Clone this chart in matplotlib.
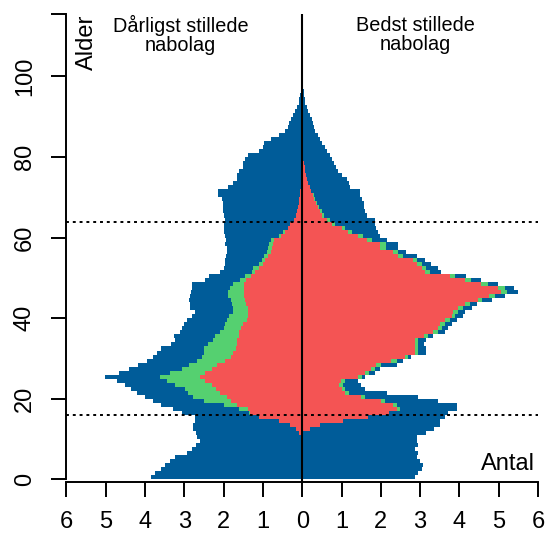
import numpy as np
import matplotlib.pyplot as plt

plt.rcParams['font.family'] = ['Liberation Sans', 'DejaVu Sans']

# one value per age year 0..99, in units of the x axis
edges = np.arange(101)

left_total = [3.85, 3.75, 3.60, 3.50, 3.36, 3.23, 2.93, 2.81, 2.70, 2.60,
              2.68, 2.70, 2.78, 2.78, 2.72, 2.72, 3.06, 3.30, 3.60, 3.80,
              4.00, 4.20, 4.35, 4.50, 4.70, 5.03, 4.65, 4.40, 4.19, 3.95,
              3.80, 3.70, 3.60, 3.35, 3.23, 3.27, 3.10, 3.05, 3.00, 2.93,
              2.81, 2.72, 2.85, 2.85, 2.87, 2.85, 2.82, 2.81, 2.81, 2.47,
              2.36, 2.09, 2.00, 1.96, 1.96, 1.93, 1.92, 1.92, 1.96, 1.94,
              1.96, 2.00, 1.98, 2.00, 1.96, 2.00, 2.02, 2.02, 2.02, 2.04,
              2.13, 2.13, 1.90, 1.76, 1.66, 1.66, 1.60, 1.51, 1.51, 1.45,
              1.37, 1.09, 1.00, 0.97, 0.80, 0.58, 0.43, 0.35, 0.33, 0.28,
              0.24, 0.18, 0.13, 0.09, 0.07, 0.05, 0.04, 0.03, 0.02, 0.01]

left_green = [0, 0, 0, 0, 0, 0, 0, 0, 0, 0,
              0, 0.07, 0.15, 0.31, 0.60, 1.10, 1.35, 1.62, 2.00, 2.51,
              2.77, 2.90, 2.98, 3.23, 3.44, 3.63, 3.36, 3.06, 2.89, 2.68,
              2.55, 2.51, 2.51, 2.40, 2.26, 2.21, 2.09, 2.00, 1.96, 1.92,
              1.85, 1.76, 1.75, 1.79, 1.82, 1.88, 1.88, 1.83, 1.75, 1.58,
              1.45, 1.28, 1.24, 1.10, 1.03, 0.98, 0.90, 0.86, 0.84, 0.80,
              0.60, 0.50, 0.37, 0.31, 0.22, 0.15, 0.12, 0.10, 0.08, 0.07,
              0.06, 0.05, 0.04, 0.03, 0.03, 0.02, 0.02, 0.01, 0.01, 0.01,
              0, 0, 0, 0, 0, 0, 0, 0, 0, 0,
              0, 0, 0, 0, 0, 0, 0, 0, 0, 0]

left_red = [0, 0, 0, 0, 0, 0, 0, 0, 0, 0,
            0, 0.07, 0.15, 0.31, 0.60, 1.10, 1.32, 1.37, 1.66, 1.80,
            1.92, 2.09, 2.20, 2.30, 2.47, 2.60, 2.47, 2.30, 2.17, 1.96,
            1.80, 1.75, 1.68, 1.67, 1.65, 1.62, 1.60, 1.55, 1.50, 1.41,
            1.38, 1.37, 1.37, 1.42, 1.45, 1.48, 1.49, 1.49, 1.49, 1.42,
            1.30, 1.20, 1.10, 1.00, 0.94, 0.86, 0.80, 0.77, 0.75, 0.73,
            0.55, 0.45, 0.35, 0.30, 0.22, 0.15, 0.12, 0.10, 0.08, 0.07,
            0.06, 0.05, 0.04, 0.03, 0.03, 0.02, 0.02, 0.01, 0.01, 0.01,
            0, 0, 0, 0, 0, 0, 0, 0, 0, 0,
            0, 0, 0, 0, 0, 0, 0, 0, 0, 0]

right_total = [2.88, 2.95, 3.05, 3.08, 2.99, 2.91, 2.95, 2.87, 2.95, 2.92,
               2.92, 3.16, 3.36, 3.50, 3.50, 3.63, 3.70, 3.93, 3.93, 3.46,
               2.95, 2.15, 1.60, 1.50, 1.41, 1.60, 1.85, 1.98, 2.40, 2.57,
               2.78, 3.16, 3.16, 3.10, 3.16, 3.33, 3.63, 3.72, 3.82, 3.93,
               4.10, 4.14, 4.31, 4.44, 4.82, 5.17, 5.48, 5.39, 4.97, 4.55,
               4.18, 3.53, 3.46, 3.29, 3.12, 2.91, 2.65, 2.44, 2.44, 2.15,
               1.98, 1.93, 1.89, 1.85, 1.85, 1.64, 1.60, 1.58, 1.58, 1.51,
               1.47, 1.47, 1.21, 1.18, 1.15, 1.00, 0.92, 0.85, 0.80, 0.75,
               0.70, 0.64, 0.58, 0.51, 0.45, 0.39, 0.33, 0.30, 0.28, 0.24,
               0.20, 0.16, 0.12, 0.08, 0.06, 0.05, 0.04, 0.03, 0.02, 0.01]

right_green = [0, 0, 0, 0, 0, 0, 0, 0, 0, 0,
               0, 0.03, 0.20, 0.45, 1.04, 1.68, 2.20, 2.50, 2.40, 2.10,
               1.60, 1.20, 1.10, 1.05, 1.08, 1.52, 1.70, 1.85, 2.00, 2.40,
               2.70, 2.95, 2.95, 2.95, 2.95, 3.21, 3.46, 3.56, 3.63, 3.76,
               3.88, 3.97, 4.10, 4.27, 4.58, 4.90, 5.20, 5.16, 4.73, 4.29,
               3.90, 3.25, 3.16, 3.04, 2.91, 2.57, 2.44, 2.12, 2.12, 1.78,
               1.55, 1.26, 1.09, 0.83, 0.70, 0.56, 0.50, 0.44, 0.38, 0.33,
               0.30, 0.23, 0.19, 0.15, 0.12, 0.10, 0.08, 0.06, 0.05, 0.03,
               0.02, 0.01, 0, 0, 0, 0, 0, 0, 0, 0,
               0, 0, 0, 0, 0, 0, 0, 0, 0, 0]

right_red = [0, 0, 0, 0, 0, 0, 0, 0, 0, 0,
             0, 0.03, 0.20, 0.45, 1.04, 1.68, 2.20, 2.41, 2.30, 2.00,
             1.50, 1.09, 1.00, 0.94, 0.98, 1.42, 1.59, 1.75, 1.89, 2.27,
             2.61, 2.87, 2.87, 2.87, 2.87, 3.10, 3.33, 3.46, 3.50, 3.63,
             3.80, 3.84, 3.97, 4.14, 4.48, 4.75, 5.07, 4.99, 4.56, 4.14,
             3.76, 3.12, 3.04, 2.91, 2.82, 2.44, 2.32, 1.98, 1.98, 1.64,
             1.42, 1.17, 1.00, 0.75, 0.62, 0.50, 0.46, 0.41, 0.36, 0.31,
             0.28, 0.23, 0.19, 0.15, 0.12, 0.10, 0.08, 0.06, 0.05, 0.03,
             0.02, 0.01, 0, 0, 0, 0, 0, 0, 0, 0,
             0, 0, 0, 0, 0, 0, 0, 0, 0, 0]

xticks = np.arange(-6, 7)
xtick_labels = [str(abs(t)) for t in xticks]
yticks = [0, 20, 40, 60, 80, 100, 115.5]
ytick_labels = ['0', '20', '40', '60', '80', '100', '']

blue = '#005C99'
green = '#55D070'
red = '#F45454'

fig = plt.figure(figsize=(5.45, 5.4), dpi=100)
ax = fig.add_axes([66.4 / 545, 58.5 / 540, (538 - 66.4) / 545, (526 - 58.5) / 540])

for vals, col in [(left_total, blue), (left_green, green), (left_red, red)]:
    ax.stairs(-np.array(vals), edges, baseline=0, fill=True, orientation='horizontal',
              color=col, lw=0)
for vals, col in [(right_total, blue), (right_green, green), (right_red, red)]:
    ax.stairs(np.array(vals), edges, baseline=0, fill=True, orientation='horizontal',
              color=col, lw=0)

ax.axvline(0, color='black', lw=1.5)
for yy in [16, 64]:
    ax.axhline(yy, color='black', lw=1.4, linestyle=(0, (1.5, 2)))

ax.set_xlim(-6, 6)
ax.set_ylim(-0.5, 115.5)
ax.spines['top'].set_visible(False)
ax.spines['right'].set_visible(False)
ax.spines['left'].set_bounds(0, 115.5)
ax.spines['bottom'].set_bounds(-6, 6)
ax.spines['left'].set_linewidth(1.4)
ax.spines['bottom'].set_linewidth(1.4)

ax.set_xticks(xticks)
ax.set_xticklabels(xtick_labels)
ax.set_yticks(yticks)
ax.set_yticklabels(ytick_labels)
ax.tick_params(axis='x', length=11, width=1.4, labelsize=17, pad=10)
ax.tick_params(axis='y', length=11, width=1.4, labelsize=17, pad=11)
for lab in ax.get_yticklabels():
    lab.set_rotation(90)
    lab.set_va('center')

ax.text(-5.47, 115.4, 'Alder', rotation=90, ha='center', va='top', fontsize=17)
ax.text(-3.1, 110.2, 'Dårligst stillede\nnabolag', ha='center', va='center',
        fontsize=14.3, linespacing=1.0)
ax.text(2.88, 110.2, 'Bedst stillede\nnabolag', ha='center', va='center',
        fontsize=14.3, linespacing=1.0)
ax.text(5.93, 2.4, 'Antal', ha='right', va='baseline', fontsize=17)

fig.savefig('out.png', dpi=100)
